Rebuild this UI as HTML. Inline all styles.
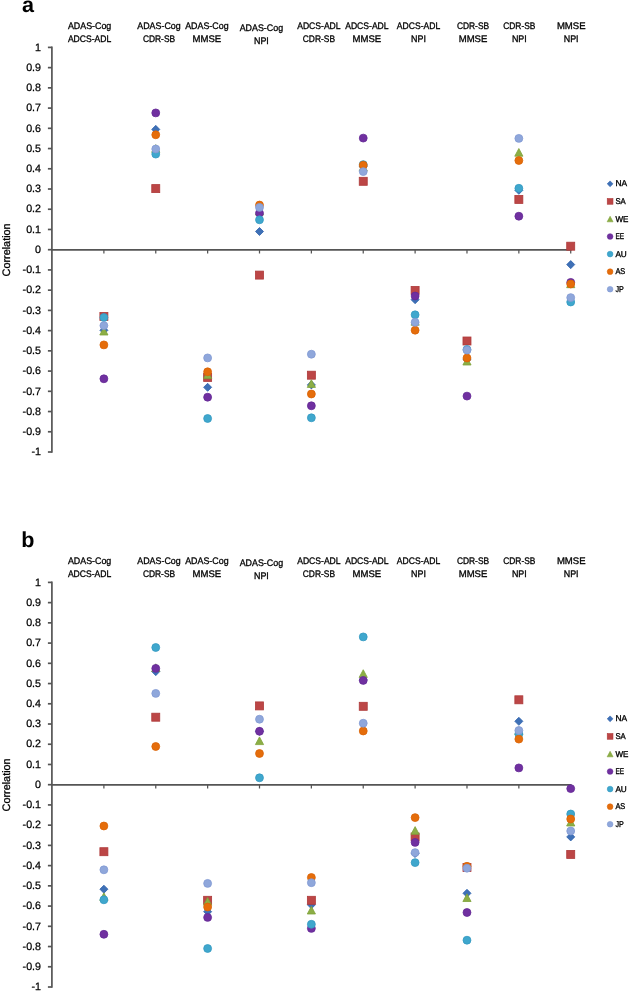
<!DOCTYPE html>
<html><head><meta charset="utf-8"><title>Correlation chart</title>
<style>
html,body{margin:0;padding:0;background:#fff;}
body{width:630px;height:992px;overflow:hidden;}
svg{display:block;position:absolute;left:0;top:0;}
#tx{filter:grayscale(1);}
text{font-family:"Liberation Sans",sans-serif;fill:#000;text-rendering:geometricPrecision;}
.yl{font-size:10.7px;text-anchor:end;stroke:#000;stroke-width:0.25px;}
.hd{font-size:9.5px;text-anchor:middle;stroke:#000;stroke-width:0.32px;}
.lg{font-size:8.5px;stroke:#000;stroke-width:0.35px;}
.cl{font-size:10.85px;text-anchor:middle;stroke:#000;stroke-width:0.3px;}
.pl{font-size:21.6px;font-weight:bold;}
</style></head>
<body>
<svg width="630" height="992" viewBox="0 0 630 992">
<rect width="630" height="992" fill="#fff"/>
<line x1="51.90" y1="46.50" x2="51.90" y2="452.80" stroke="#555555" stroke-width="1.7"/>
<line x1="47.9" y1="47.40" x2="51.90" y2="47.40" stroke="#555555" stroke-width="1.7"/>
<line x1="47.9" y1="67.63" x2="51.90" y2="67.63" stroke="#555555" stroke-width="1.7"/>
<line x1="47.9" y1="87.86" x2="51.90" y2="87.86" stroke="#555555" stroke-width="1.7"/>
<line x1="47.9" y1="108.09" x2="51.90" y2="108.09" stroke="#555555" stroke-width="1.7"/>
<line x1="47.9" y1="128.32" x2="51.90" y2="128.32" stroke="#555555" stroke-width="1.7"/>
<line x1="47.9" y1="148.55" x2="51.90" y2="148.55" stroke="#555555" stroke-width="1.7"/>
<line x1="47.9" y1="168.78" x2="51.90" y2="168.78" stroke="#555555" stroke-width="1.7"/>
<line x1="47.9" y1="189.01" x2="51.90" y2="189.01" stroke="#555555" stroke-width="1.7"/>
<line x1="47.9" y1="209.24" x2="51.90" y2="209.24" stroke="#555555" stroke-width="1.7"/>
<line x1="47.9" y1="229.47" x2="51.90" y2="229.47" stroke="#555555" stroke-width="1.7"/>
<line x1="47.9" y1="249.70" x2="51.90" y2="249.70" stroke="#555555" stroke-width="1.7"/>
<line x1="47.9" y1="269.93" x2="51.90" y2="269.93" stroke="#555555" stroke-width="1.7"/>
<line x1="47.9" y1="290.16" x2="51.90" y2="290.16" stroke="#555555" stroke-width="1.7"/>
<line x1="47.9" y1="310.39" x2="51.90" y2="310.39" stroke="#555555" stroke-width="1.7"/>
<line x1="47.9" y1="330.62" x2="51.90" y2="330.62" stroke="#555555" stroke-width="1.7"/>
<line x1="47.9" y1="350.85" x2="51.90" y2="350.85" stroke="#555555" stroke-width="1.7"/>
<line x1="47.9" y1="371.08" x2="51.90" y2="371.08" stroke="#555555" stroke-width="1.7"/>
<line x1="47.9" y1="391.31" x2="51.90" y2="391.31" stroke="#555555" stroke-width="1.7"/>
<line x1="47.9" y1="411.54" x2="51.90" y2="411.54" stroke="#555555" stroke-width="1.7"/>
<line x1="47.9" y1="431.77" x2="51.90" y2="431.77" stroke="#555555" stroke-width="1.7"/>
<line x1="47.9" y1="452.00" x2="51.90" y2="452.00" stroke="#555555" stroke-width="1.7"/>
<line x1="51.90" y1="249.90" x2="571.52" y2="249.90" stroke="#555555" stroke-width="1.7"/>
<line x1="103.89" y1="249.90" x2="103.89" y2="253.50" stroke="#555555" stroke-width="1.25"/>
<line x1="155.76" y1="249.90" x2="155.76" y2="253.50" stroke="#555555" stroke-width="1.25"/>
<line x1="207.63" y1="249.90" x2="207.63" y2="253.50" stroke="#555555" stroke-width="1.25"/>
<line x1="259.50" y1="249.90" x2="259.50" y2="253.50" stroke="#555555" stroke-width="1.25"/>
<line x1="311.37" y1="249.90" x2="311.37" y2="253.50" stroke="#555555" stroke-width="1.25"/>
<line x1="363.24" y1="249.90" x2="363.24" y2="253.50" stroke="#555555" stroke-width="1.25"/>
<line x1="415.11" y1="249.90" x2="415.11" y2="253.50" stroke="#555555" stroke-width="1.25"/>
<line x1="466.98" y1="249.90" x2="466.98" y2="253.50" stroke="#555555" stroke-width="1.25"/>
<line x1="518.85" y1="249.90" x2="518.85" y2="253.50" stroke="#555555" stroke-width="1.25"/>
<line x1="570.72" y1="249.90" x2="570.72" y2="253.50" stroke="#555555" stroke-width="1.25"/>
<path d="M103.89 326.27L107.92 330.30L103.89 334.33L99.86 330.30Z" fill="#3E70B6" stroke="#2F62AC" stroke-width="0.80" stroke-linejoin="miter"/>
<rect x="99.89" y="312.40" width="8.00" height="8.00" fill="#BC4646" stroke="#AE3A3A" stroke-width="0.80" stroke-linejoin="miter"/>
<path d="M103.89 327.32L107.99 335.00L99.79 335.00Z" fill="#8CAE45" stroke="#7FA23A" stroke-width="0.80" stroke-linejoin="miter"/>
<circle cx="103.89" cy="378.80" r="3.95" fill="#7030A0" stroke="#642996" stroke-width="0.80" stroke-linejoin="miter"/>
<circle cx="103.89" cy="317.50" r="3.95" fill="#3FA7CD" stroke="#3399C2" stroke-width="0.80" stroke-linejoin="miter"/>
<circle cx="103.89" cy="344.90" r="3.95" fill="#E56D0B" stroke="#D96306" stroke-width="0.80" stroke-linejoin="miter"/>
<circle cx="103.89" cy="325.60" r="3.95" fill="#8FA7DB" stroke="#8199D3" stroke-width="0.80" stroke-linejoin="miter"/>
<path d="M155.76 125.37L159.79 129.40L155.76 133.43L151.73 129.40Z" fill="#3E70B6" stroke="#2F62AC" stroke-width="0.80" stroke-linejoin="miter"/>
<rect x="151.76" y="184.60" width="8.00" height="8.00" fill="#BC4646" stroke="#AE3A3A" stroke-width="0.80" stroke-linejoin="miter"/>
<path d="M155.76 144.62L159.86 152.30L151.66 152.30Z" fill="#8CAE45" stroke="#7FA23A" stroke-width="0.80" stroke-linejoin="miter"/>
<circle cx="155.76" cy="112.90" r="3.95" fill="#7030A0" stroke="#642996" stroke-width="0.80" stroke-linejoin="miter"/>
<circle cx="155.76" cy="154.10" r="3.95" fill="#3FA7CD" stroke="#3399C2" stroke-width="0.80" stroke-linejoin="miter"/>
<circle cx="155.76" cy="134.80" r="3.95" fill="#E56D0B" stroke="#D96306" stroke-width="0.80" stroke-linejoin="miter"/>
<circle cx="155.76" cy="149.00" r="3.95" fill="#8FA7DB" stroke="#8199D3" stroke-width="0.80" stroke-linejoin="miter"/>
<path d="M207.63 383.27L211.66 387.30L207.63 391.33L203.60 387.30Z" fill="#3E70B6" stroke="#2F62AC" stroke-width="0.80" stroke-linejoin="miter"/>
<rect x="203.63" y="373.40" width="8.00" height="8.00" fill="#BC4646" stroke="#AE3A3A" stroke-width="0.80" stroke-linejoin="miter"/>
<path d="M207.63 370.92L211.73 378.60L203.53 378.60Z" fill="#8CAE45" stroke="#7FA23A" stroke-width="0.80" stroke-linejoin="miter"/>
<circle cx="207.63" cy="397.20" r="3.95" fill="#7030A0" stroke="#642996" stroke-width="0.80" stroke-linejoin="miter"/>
<circle cx="207.63" cy="418.50" r="3.95" fill="#3FA7CD" stroke="#3399C2" stroke-width="0.80" stroke-linejoin="miter"/>
<circle cx="207.63" cy="371.80" r="3.95" fill="#E56D0B" stroke="#D96306" stroke-width="0.80" stroke-linejoin="miter"/>
<circle cx="207.63" cy="357.90" r="3.95" fill="#8FA7DB" stroke="#8199D3" stroke-width="0.80" stroke-linejoin="miter"/>
<path d="M259.50 227.47L263.53 231.50L259.50 235.53L255.47 231.50Z" fill="#3E70B6" stroke="#2F62AC" stroke-width="0.80" stroke-linejoin="miter"/>
<rect x="255.50" y="271.10" width="8.00" height="8.00" fill="#BC4646" stroke="#AE3A3A" stroke-width="0.80" stroke-linejoin="miter"/>
<path d="M259.50 207.32L263.60 215.00L255.40 215.00Z" fill="#8CAE45" stroke="#7FA23A" stroke-width="0.80" stroke-linejoin="miter"/>
<circle cx="259.50" cy="213.10" r="3.95" fill="#7030A0" stroke="#642996" stroke-width="0.80" stroke-linejoin="miter"/>
<circle cx="259.50" cy="219.80" r="3.95" fill="#3FA7CD" stroke="#3399C2" stroke-width="0.80" stroke-linejoin="miter"/>
<circle cx="259.50" cy="205.05" r="3.95" fill="#E56D0B" stroke="#D96306" stroke-width="0.80" stroke-linejoin="miter"/>
<circle cx="259.50" cy="207.40" r="3.95" fill="#8FA7DB" stroke="#8199D3" stroke-width="0.80" stroke-linejoin="miter"/>
<path d="M311.37 380.87L315.40 384.90L311.37 388.93L307.34 384.90Z" fill="#3E70B6" stroke="#2F62AC" stroke-width="0.80" stroke-linejoin="miter"/>
<rect x="307.37" y="371.20" width="8.00" height="8.00" fill="#BC4646" stroke="#AE3A3A" stroke-width="0.80" stroke-linejoin="miter"/>
<path d="M311.37 379.72L315.47 387.40L307.27 387.40Z" fill="#8CAE45" stroke="#7FA23A" stroke-width="0.80" stroke-linejoin="miter"/>
<circle cx="311.37" cy="405.80" r="3.95" fill="#7030A0" stroke="#642996" stroke-width="0.80" stroke-linejoin="miter"/>
<circle cx="311.37" cy="417.80" r="3.95" fill="#3FA7CD" stroke="#3399C2" stroke-width="0.80" stroke-linejoin="miter"/>
<circle cx="311.37" cy="394.00" r="3.95" fill="#E56D0B" stroke="#D96306" stroke-width="0.80" stroke-linejoin="miter"/>
<circle cx="311.37" cy="354.20" r="3.95" fill="#8FA7DB" stroke="#8199D3" stroke-width="0.80" stroke-linejoin="miter"/>
<path d="M363.24 162.47L367.27 166.50L363.24 170.53L359.21 166.50Z" fill="#3E70B6" stroke="#2F62AC" stroke-width="0.80" stroke-linejoin="miter"/>
<rect x="359.24" y="177.30" width="8.00" height="8.00" fill="#BC4646" stroke="#AE3A3A" stroke-width="0.80" stroke-linejoin="miter"/>
<path d="M363.24 163.22L367.34 170.90L359.14 170.90Z" fill="#8CAE45" stroke="#7FA23A" stroke-width="0.80" stroke-linejoin="miter"/>
<circle cx="363.24" cy="138.10" r="3.95" fill="#7030A0" stroke="#642996" stroke-width="0.80" stroke-linejoin="miter"/>
<circle cx="363.24" cy="164.60" r="3.95" fill="#3FA7CD" stroke="#3399C2" stroke-width="0.80" stroke-linejoin="miter"/>
<circle cx="363.24" cy="165.20" r="3.95" fill="#E56D0B" stroke="#D96306" stroke-width="0.80" stroke-linejoin="miter"/>
<circle cx="363.24" cy="171.60" r="3.95" fill="#8FA7DB" stroke="#8199D3" stroke-width="0.80" stroke-linejoin="miter"/>
<path d="M415.11 295.67L419.14 299.70L415.11 303.73L411.08 299.70Z" fill="#3E70B6" stroke="#2F62AC" stroke-width="0.80" stroke-linejoin="miter"/>
<rect x="411.11" y="286.40" width="8.00" height="8.00" fill="#BC4646" stroke="#AE3A3A" stroke-width="0.80" stroke-linejoin="miter"/>
<path d="M415.11 317.52L419.21 325.20L411.01 325.20Z" fill="#8CAE45" stroke="#7FA23A" stroke-width="0.80" stroke-linejoin="miter"/>
<circle cx="415.11" cy="296.00" r="3.95" fill="#7030A0" stroke="#642996" stroke-width="0.80" stroke-linejoin="miter"/>
<circle cx="415.11" cy="314.80" r="3.95" fill="#3FA7CD" stroke="#3399C2" stroke-width="0.80" stroke-linejoin="miter"/>
<circle cx="415.11" cy="330.20" r="3.95" fill="#E56D0B" stroke="#D96306" stroke-width="0.80" stroke-linejoin="miter"/>
<circle cx="415.11" cy="322.30" r="3.95" fill="#8FA7DB" stroke="#8199D3" stroke-width="0.80" stroke-linejoin="miter"/>
<path d="M466.98 355.47L471.01 359.50L466.98 363.53L462.95 359.50Z" fill="#3E70B6" stroke="#2F62AC" stroke-width="0.80" stroke-linejoin="miter"/>
<rect x="462.98" y="337.00" width="8.00" height="8.00" fill="#BC4646" stroke="#AE3A3A" stroke-width="0.80" stroke-linejoin="miter"/>
<path d="M466.98 357.32L471.08 365.00L462.88 365.00Z" fill="#8CAE45" stroke="#7FA23A" stroke-width="0.80" stroke-linejoin="miter"/>
<circle cx="466.98" cy="396.10" r="3.95" fill="#7030A0" stroke="#642996" stroke-width="0.80" stroke-linejoin="miter"/>
<circle cx="466.98" cy="349.50" r="3.95" fill="#3FA7CD" stroke="#3399C2" stroke-width="0.80" stroke-linejoin="miter"/>
<circle cx="466.98" cy="358.00" r="3.95" fill="#E56D0B" stroke="#D96306" stroke-width="0.80" stroke-linejoin="miter"/>
<circle cx="466.98" cy="350.10" r="3.95" fill="#8FA7DB" stroke="#8199D3" stroke-width="0.80" stroke-linejoin="miter"/>
<path d="M518.85 186.27L522.88 190.30L518.85 194.33L514.82 190.30Z" fill="#3E70B6" stroke="#2F62AC" stroke-width="0.80" stroke-linejoin="miter"/>
<rect x="514.85" y="195.40" width="8.00" height="8.00" fill="#BC4646" stroke="#AE3A3A" stroke-width="0.80" stroke-linejoin="miter"/>
<path d="M518.85 148.52L522.95 156.20L514.75 156.20Z" fill="#8CAE45" stroke="#7FA23A" stroke-width="0.80" stroke-linejoin="miter"/>
<circle cx="518.85" cy="216.20" r="3.95" fill="#7030A0" stroke="#642996" stroke-width="0.80" stroke-linejoin="miter"/>
<circle cx="518.85" cy="188.30" r="3.95" fill="#3FA7CD" stroke="#3399C2" stroke-width="0.80" stroke-linejoin="miter"/>
<circle cx="518.85" cy="160.50" r="3.95" fill="#E56D0B" stroke="#D96306" stroke-width="0.80" stroke-linejoin="miter"/>
<circle cx="518.85" cy="138.40" r="3.95" fill="#8FA7DB" stroke="#8199D3" stroke-width="0.80" stroke-linejoin="miter"/>
<path d="M570.72 260.57L574.75 264.60L570.72 268.63L566.69 264.60Z" fill="#3E70B6" stroke="#2F62AC" stroke-width="0.80" stroke-linejoin="miter"/>
<rect x="566.72" y="242.20" width="8.00" height="8.00" fill="#BC4646" stroke="#AE3A3A" stroke-width="0.80" stroke-linejoin="miter"/>
<path d="M570.72 280.02L574.82 287.70L566.62 287.70Z" fill="#8CAE45" stroke="#7FA23A" stroke-width="0.80" stroke-linejoin="miter"/>
<circle cx="570.72" cy="282.40" r="3.95" fill="#7030A0" stroke="#642996" stroke-width="0.80" stroke-linejoin="miter"/>
<circle cx="570.72" cy="302.00" r="3.95" fill="#3FA7CD" stroke="#3399C2" stroke-width="0.80" stroke-linejoin="miter"/>
<circle cx="570.72" cy="284.00" r="3.95" fill="#E56D0B" stroke="#D96306" stroke-width="0.80" stroke-linejoin="miter"/>
<circle cx="570.72" cy="297.60" r="3.95" fill="#8FA7DB" stroke="#8199D3" stroke-width="0.80" stroke-linejoin="miter"/>
<path d="M610.10 180.90L613.00 183.80L610.10 186.70L607.20 183.80Z" fill="#3E70B6" stroke="#2F62AC" stroke-width="0.58" stroke-linejoin="miter"/>
<rect x="607.22" y="198.49" width="5.76" height="5.76" fill="#BC4646" stroke="#AE3A3A" stroke-width="0.58" stroke-linejoin="miter"/>
<path d="M610.10 216.29L613.05 221.82L607.15 221.82Z" fill="#8CAE45" stroke="#7FA23A" stroke-width="0.58" stroke-linejoin="miter"/>
<circle cx="610.10" cy="236.51" r="2.84" fill="#7030A0" stroke="#642996" stroke-width="0.58" stroke-linejoin="miter"/>
<circle cx="610.10" cy="254.08" r="2.84" fill="#3FA7CD" stroke="#3399C2" stroke-width="0.58" stroke-linejoin="miter"/>
<circle cx="610.10" cy="271.65" r="2.84" fill="#E56D0B" stroke="#D96306" stroke-width="0.58" stroke-linejoin="miter"/>
<circle cx="610.10" cy="289.22" r="2.84" fill="#8FA7DB" stroke="#8199D3" stroke-width="0.58" stroke-linejoin="miter"/>
<line x1="51.90" y1="581.50" x2="51.90" y2="987.80" stroke="#555555" stroke-width="1.7"/>
<line x1="47.9" y1="582.40" x2="51.90" y2="582.40" stroke="#555555" stroke-width="1.7"/>
<line x1="47.9" y1="602.63" x2="51.90" y2="602.63" stroke="#555555" stroke-width="1.7"/>
<line x1="47.9" y1="622.86" x2="51.90" y2="622.86" stroke="#555555" stroke-width="1.7"/>
<line x1="47.9" y1="643.09" x2="51.90" y2="643.09" stroke="#555555" stroke-width="1.7"/>
<line x1="47.9" y1="663.32" x2="51.90" y2="663.32" stroke="#555555" stroke-width="1.7"/>
<line x1="47.9" y1="683.55" x2="51.90" y2="683.55" stroke="#555555" stroke-width="1.7"/>
<line x1="47.9" y1="703.78" x2="51.90" y2="703.78" stroke="#555555" stroke-width="1.7"/>
<line x1="47.9" y1="724.01" x2="51.90" y2="724.01" stroke="#555555" stroke-width="1.7"/>
<line x1="47.9" y1="744.24" x2="51.90" y2="744.24" stroke="#555555" stroke-width="1.7"/>
<line x1="47.9" y1="764.47" x2="51.90" y2="764.47" stroke="#555555" stroke-width="1.7"/>
<line x1="47.9" y1="784.70" x2="51.90" y2="784.70" stroke="#555555" stroke-width="1.7"/>
<line x1="47.9" y1="804.93" x2="51.90" y2="804.93" stroke="#555555" stroke-width="1.7"/>
<line x1="47.9" y1="825.16" x2="51.90" y2="825.16" stroke="#555555" stroke-width="1.7"/>
<line x1="47.9" y1="845.39" x2="51.90" y2="845.39" stroke="#555555" stroke-width="1.7"/>
<line x1="47.9" y1="865.62" x2="51.90" y2="865.62" stroke="#555555" stroke-width="1.7"/>
<line x1="47.9" y1="885.85" x2="51.90" y2="885.85" stroke="#555555" stroke-width="1.7"/>
<line x1="47.9" y1="906.08" x2="51.90" y2="906.08" stroke="#555555" stroke-width="1.7"/>
<line x1="47.9" y1="926.31" x2="51.90" y2="926.31" stroke="#555555" stroke-width="1.7"/>
<line x1="47.9" y1="946.54" x2="51.90" y2="946.54" stroke="#555555" stroke-width="1.7"/>
<line x1="47.9" y1="966.77" x2="51.90" y2="966.77" stroke="#555555" stroke-width="1.7"/>
<line x1="47.9" y1="987.00" x2="51.90" y2="987.00" stroke="#555555" stroke-width="1.7"/>
<line x1="51.90" y1="784.90" x2="571.52" y2="784.90" stroke="#555555" stroke-width="1.7"/>
<line x1="103.89" y1="784.90" x2="103.89" y2="788.50" stroke="#555555" stroke-width="1.25"/>
<line x1="155.76" y1="784.90" x2="155.76" y2="788.50" stroke="#555555" stroke-width="1.25"/>
<line x1="207.63" y1="784.90" x2="207.63" y2="788.50" stroke="#555555" stroke-width="1.25"/>
<line x1="259.50" y1="784.90" x2="259.50" y2="788.50" stroke="#555555" stroke-width="1.25"/>
<line x1="311.37" y1="784.90" x2="311.37" y2="788.50" stroke="#555555" stroke-width="1.25"/>
<line x1="363.24" y1="784.90" x2="363.24" y2="788.50" stroke="#555555" stroke-width="1.25"/>
<line x1="415.11" y1="784.90" x2="415.11" y2="788.50" stroke="#555555" stroke-width="1.25"/>
<line x1="466.98" y1="784.90" x2="466.98" y2="788.50" stroke="#555555" stroke-width="1.25"/>
<line x1="518.85" y1="784.90" x2="518.85" y2="788.50" stroke="#555555" stroke-width="1.25"/>
<line x1="570.72" y1="784.90" x2="570.72" y2="788.50" stroke="#555555" stroke-width="1.25"/>
<path d="M103.89 885.17L107.92 889.20L103.89 893.23L99.86 889.20Z" fill="#3E70B6" stroke="#2F62AC" stroke-width="0.80" stroke-linejoin="miter"/>
<rect x="99.89" y="847.70" width="8.00" height="8.00" fill="#BC4646" stroke="#AE3A3A" stroke-width="0.80" stroke-linejoin="miter"/>
<path d="M103.89 892.82L107.99 900.50L99.79 900.50Z" fill="#8CAE45" stroke="#7FA23A" stroke-width="0.80" stroke-linejoin="miter"/>
<circle cx="103.89" cy="934.30" r="3.95" fill="#7030A0" stroke="#642996" stroke-width="0.80" stroke-linejoin="miter"/>
<circle cx="103.89" cy="899.80" r="3.95" fill="#3FA7CD" stroke="#3399C2" stroke-width="0.80" stroke-linejoin="miter"/>
<circle cx="103.89" cy="826.00" r="3.95" fill="#E56D0B" stroke="#D96306" stroke-width="0.80" stroke-linejoin="miter"/>
<circle cx="103.89" cy="869.80" r="3.95" fill="#8FA7DB" stroke="#8199D3" stroke-width="0.80" stroke-linejoin="miter"/>
<path d="M155.76 667.57L159.79 671.60L155.76 675.63L151.73 671.60Z" fill="#3E70B6" stroke="#2F62AC" stroke-width="0.80" stroke-linejoin="miter"/>
<rect x="151.76" y="713.20" width="8.00" height="8.00" fill="#BC4646" stroke="#AE3A3A" stroke-width="0.80" stroke-linejoin="miter"/>
<path d="M155.76 663.82L159.86 671.50L151.66 671.50Z" fill="#8CAE45" stroke="#7FA23A" stroke-width="0.80" stroke-linejoin="miter"/>
<circle cx="155.76" cy="668.40" r="3.95" fill="#7030A0" stroke="#642996" stroke-width="0.80" stroke-linejoin="miter"/>
<circle cx="155.76" cy="647.50" r="3.95" fill="#3FA7CD" stroke="#3399C2" stroke-width="0.80" stroke-linejoin="miter"/>
<circle cx="155.76" cy="746.50" r="3.95" fill="#E56D0B" stroke="#D96306" stroke-width="0.80" stroke-linejoin="miter"/>
<circle cx="155.76" cy="693.40" r="3.95" fill="#8FA7DB" stroke="#8199D3" stroke-width="0.80" stroke-linejoin="miter"/>
<path d="M207.63 907.67L211.66 911.70L207.63 915.73L203.60 911.70Z" fill="#3E70B6" stroke="#2F62AC" stroke-width="0.80" stroke-linejoin="miter"/>
<rect x="203.63" y="896.30" width="8.00" height="8.00" fill="#BC4646" stroke="#AE3A3A" stroke-width="0.80" stroke-linejoin="miter"/>
<path d="M207.63 897.52L211.73 905.20L203.53 905.20Z" fill="#8CAE45" stroke="#7FA23A" stroke-width="0.80" stroke-linejoin="miter"/>
<circle cx="207.63" cy="917.40" r="3.95" fill="#7030A0" stroke="#642996" stroke-width="0.80" stroke-linejoin="miter"/>
<circle cx="207.63" cy="948.50" r="3.95" fill="#3FA7CD" stroke="#3399C2" stroke-width="0.80" stroke-linejoin="miter"/>
<circle cx="207.63" cy="907.00" r="3.95" fill="#E56D0B" stroke="#D96306" stroke-width="0.80" stroke-linejoin="miter"/>
<circle cx="207.63" cy="883.40" r="3.95" fill="#8FA7DB" stroke="#8199D3" stroke-width="0.80" stroke-linejoin="miter"/>
<path d="M259.50 727.27L263.53 731.30L259.50 735.33L255.47 731.30Z" fill="#3E70B6" stroke="#2F62AC" stroke-width="0.80" stroke-linejoin="miter"/>
<rect x="255.50" y="701.90" width="8.00" height="8.00" fill="#BC4646" stroke="#AE3A3A" stroke-width="0.80" stroke-linejoin="miter"/>
<path d="M259.50 736.92L263.60 744.60L255.40 744.60Z" fill="#8CAE45" stroke="#7FA23A" stroke-width="0.80" stroke-linejoin="miter"/>
<circle cx="259.50" cy="731.30" r="3.95" fill="#7030A0" stroke="#642996" stroke-width="0.80" stroke-linejoin="miter"/>
<circle cx="259.50" cy="777.80" r="3.95" fill="#3FA7CD" stroke="#3399C2" stroke-width="0.80" stroke-linejoin="miter"/>
<circle cx="259.50" cy="753.50" r="3.95" fill="#E56D0B" stroke="#D96306" stroke-width="0.80" stroke-linejoin="miter"/>
<circle cx="259.50" cy="719.20" r="3.95" fill="#8FA7DB" stroke="#8199D3" stroke-width="0.80" stroke-linejoin="miter"/>
<path d="M311.37 900.77L315.40 904.80L311.37 908.83L307.34 904.80Z" fill="#3E70B6" stroke="#2F62AC" stroke-width="0.80" stroke-linejoin="miter"/>
<rect x="307.37" y="896.30" width="8.00" height="8.00" fill="#BC4646" stroke="#AE3A3A" stroke-width="0.80" stroke-linejoin="miter"/>
<path d="M311.37 906.32L315.47 914.00L307.27 914.00Z" fill="#8CAE45" stroke="#7FA23A" stroke-width="0.80" stroke-linejoin="miter"/>
<circle cx="311.37" cy="928.40" r="3.95" fill="#7030A0" stroke="#642996" stroke-width="0.80" stroke-linejoin="miter"/>
<circle cx="311.37" cy="924.30" r="3.95" fill="#3FA7CD" stroke="#3399C2" stroke-width="0.80" stroke-linejoin="miter"/>
<circle cx="311.37" cy="877.50" r="3.95" fill="#E56D0B" stroke="#D96306" stroke-width="0.80" stroke-linejoin="miter"/>
<circle cx="311.37" cy="882.70" r="3.95" fill="#8FA7DB" stroke="#8199D3" stroke-width="0.80" stroke-linejoin="miter"/>
<path d="M363.24 675.97L367.27 680.00L363.24 684.03L359.21 680.00Z" fill="#3E70B6" stroke="#2F62AC" stroke-width="0.80" stroke-linejoin="miter"/>
<rect x="359.24" y="702.30" width="8.00" height="8.00" fill="#BC4646" stroke="#AE3A3A" stroke-width="0.80" stroke-linejoin="miter"/>
<path d="M363.24 669.72L367.34 677.40L359.14 677.40Z" fill="#8CAE45" stroke="#7FA23A" stroke-width="0.80" stroke-linejoin="miter"/>
<circle cx="363.24" cy="680.40" r="3.95" fill="#7030A0" stroke="#642996" stroke-width="0.80" stroke-linejoin="miter"/>
<circle cx="363.24" cy="636.90" r="3.95" fill="#3FA7CD" stroke="#3399C2" stroke-width="0.80" stroke-linejoin="miter"/>
<circle cx="363.24" cy="731.00" r="3.95" fill="#E56D0B" stroke="#D96306" stroke-width="0.80" stroke-linejoin="miter"/>
<circle cx="363.24" cy="723.20" r="3.95" fill="#8FA7DB" stroke="#8199D3" stroke-width="0.80" stroke-linejoin="miter"/>
<path d="M415.11 849.47L419.14 853.50L415.11 857.53L411.08 853.50Z" fill="#3E70B6" stroke="#2F62AC" stroke-width="0.80" stroke-linejoin="miter"/>
<rect x="411.11" y="833.00" width="8.00" height="8.00" fill="#BC4646" stroke="#AE3A3A" stroke-width="0.80" stroke-linejoin="miter"/>
<path d="M415.11 826.62L419.21 834.30L411.01 834.30Z" fill="#8CAE45" stroke="#7FA23A" stroke-width="0.80" stroke-linejoin="miter"/>
<circle cx="415.11" cy="842.40" r="3.95" fill="#7030A0" stroke="#642996" stroke-width="0.80" stroke-linejoin="miter"/>
<circle cx="415.11" cy="862.60" r="3.95" fill="#3FA7CD" stroke="#3399C2" stroke-width="0.80" stroke-linejoin="miter"/>
<circle cx="415.11" cy="817.60" r="3.95" fill="#E56D0B" stroke="#D96306" stroke-width="0.80" stroke-linejoin="miter"/>
<circle cx="415.11" cy="852.60" r="3.95" fill="#8FA7DB" stroke="#8199D3" stroke-width="0.80" stroke-linejoin="miter"/>
<path d="M466.98 889.27L471.01 893.30L466.98 897.33L462.95 893.30Z" fill="#3E70B6" stroke="#2F62AC" stroke-width="0.80" stroke-linejoin="miter"/>
<rect x="462.98" y="863.50" width="8.00" height="8.00" fill="#BC4646" stroke="#AE3A3A" stroke-width="0.80" stroke-linejoin="miter"/>
<path d="M466.98 893.82L471.08 901.50L462.88 901.50Z" fill="#8CAE45" stroke="#7FA23A" stroke-width="0.80" stroke-linejoin="miter"/>
<circle cx="466.98" cy="912.50" r="3.95" fill="#7030A0" stroke="#642996" stroke-width="0.80" stroke-linejoin="miter"/>
<circle cx="466.98" cy="940.20" r="3.95" fill="#3FA7CD" stroke="#3399C2" stroke-width="0.80" stroke-linejoin="miter"/>
<circle cx="466.98" cy="866.30" r="3.95" fill="#E56D0B" stroke="#D96306" stroke-width="0.80" stroke-linejoin="miter"/>
<circle cx="466.98" cy="868.20" r="3.95" fill="#8FA7DB" stroke="#8199D3" stroke-width="0.80" stroke-linejoin="miter"/>
<path d="M518.85 717.27L522.88 721.30L518.85 725.33L514.82 721.30Z" fill="#3E70B6" stroke="#2F62AC" stroke-width="0.80" stroke-linejoin="miter"/>
<rect x="514.85" y="695.80" width="8.00" height="8.00" fill="#BC4646" stroke="#AE3A3A" stroke-width="0.80" stroke-linejoin="miter"/>
<path d="M518.85 726.82L522.95 734.50L514.75 734.50Z" fill="#8CAE45" stroke="#7FA23A" stroke-width="0.80" stroke-linejoin="miter"/>
<circle cx="518.85" cy="767.90" r="3.95" fill="#7030A0" stroke="#642996" stroke-width="0.80" stroke-linejoin="miter"/>
<circle cx="518.85" cy="734.00" r="3.95" fill="#3FA7CD" stroke="#3399C2" stroke-width="0.80" stroke-linejoin="miter"/>
<circle cx="518.85" cy="739.10" r="3.95" fill="#E56D0B" stroke="#D96306" stroke-width="0.80" stroke-linejoin="miter"/>
<circle cx="518.85" cy="730.50" r="3.95" fill="#8FA7DB" stroke="#8199D3" stroke-width="0.80" stroke-linejoin="miter"/>
<path d="M570.72 832.87L574.75 836.90L570.72 840.93L566.69 836.90Z" fill="#3E70B6" stroke="#2F62AC" stroke-width="0.80" stroke-linejoin="miter"/>
<rect x="566.72" y="850.40" width="8.00" height="8.00" fill="#BC4646" stroke="#AE3A3A" stroke-width="0.80" stroke-linejoin="miter"/>
<path d="M570.72 818.32L574.82 826.00L566.62 826.00Z" fill="#8CAE45" stroke="#7FA23A" stroke-width="0.80" stroke-linejoin="miter"/>
<circle cx="570.72" cy="788.60" r="3.95" fill="#7030A0" stroke="#642996" stroke-width="0.80" stroke-linejoin="miter"/>
<circle cx="570.72" cy="814.00" r="3.95" fill="#3FA7CD" stroke="#3399C2" stroke-width="0.80" stroke-linejoin="miter"/>
<circle cx="570.72" cy="819.00" r="3.95" fill="#E56D0B" stroke="#D96306" stroke-width="0.80" stroke-linejoin="miter"/>
<circle cx="570.72" cy="831.00" r="3.95" fill="#8FA7DB" stroke="#8199D3" stroke-width="0.80" stroke-linejoin="miter"/>
<path d="M610.10 715.90L613.00 718.80L610.10 721.70L607.20 718.80Z" fill="#3E70B6" stroke="#2F62AC" stroke-width="0.58" stroke-linejoin="miter"/>
<rect x="607.22" y="733.49" width="5.76" height="5.76" fill="#BC4646" stroke="#AE3A3A" stroke-width="0.58" stroke-linejoin="miter"/>
<path d="M610.10 751.29L613.05 756.82L607.15 756.82Z" fill="#8CAE45" stroke="#7FA23A" stroke-width="0.58" stroke-linejoin="miter"/>
<circle cx="610.10" cy="771.51" r="2.84" fill="#7030A0" stroke="#642996" stroke-width="0.58" stroke-linejoin="miter"/>
<circle cx="610.10" cy="789.08" r="2.84" fill="#3FA7CD" stroke="#3399C2" stroke-width="0.58" stroke-linejoin="miter"/>
<circle cx="610.10" cy="806.65" r="2.84" fill="#E56D0B" stroke="#D96306" stroke-width="0.58" stroke-linejoin="miter"/>
<circle cx="610.10" cy="824.22" r="2.84" fill="#8FA7DB" stroke="#8199D3" stroke-width="0.58" stroke-linejoin="miter"/>
</svg>
<svg id="tx" width="630" height="992" viewBox="0 0 630 992">
<text x="41.0" y="50.60" class="yl">1</text>
<text x="41.0" y="70.83" class="yl">0.9</text>
<text x="41.0" y="91.06" class="yl">0.8</text>
<text x="41.0" y="111.29" class="yl">0.7</text>
<text x="41.0" y="131.52" class="yl">0.6</text>
<text x="41.0" y="151.75" class="yl">0.5</text>
<text x="41.0" y="171.98" class="yl">0.4</text>
<text x="41.0" y="192.21" class="yl">0.3</text>
<text x="41.0" y="212.44" class="yl">0.2</text>
<text x="41.0" y="232.67" class="yl">0.1</text>
<text x="41.0" y="252.90" class="yl">0</text>
<text x="41.0" y="273.13" class="yl">-0.1</text>
<text x="41.0" y="293.36" class="yl">-0.2</text>
<text x="41.0" y="313.59" class="yl">-0.3</text>
<text x="41.0" y="333.82" class="yl">-0.4</text>
<text x="41.0" y="354.05" class="yl">-0.5</text>
<text x="41.0" y="374.28" class="yl">-0.6</text>
<text x="41.0" y="394.51" class="yl">-0.7</text>
<text x="41.0" y="414.74" class="yl">-0.8</text>
<text x="41.0" y="434.97" class="yl">-0.9</text>
<text x="41.0" y="455.20" class="yl">-1</text>
<text x="615.4" y="186.40" class="lg" textLength="11.6" lengthAdjust="spacingAndGlyphs">NA</text>
<text x="615.4" y="203.97" class="lg" textLength="10.3" lengthAdjust="spacingAndGlyphs">SA</text>
<text x="615.4" y="221.54" class="lg" textLength="13.0" lengthAdjust="spacingAndGlyphs">WE</text>
<text x="615.4" y="239.11" class="lg" textLength="8.6" lengthAdjust="spacingAndGlyphs">EE</text>
<text x="615.4" y="256.68" class="lg" textLength="11.4" lengthAdjust="spacingAndGlyphs">AU</text>
<text x="615.4" y="274.25" class="lg" textLength="9.9" lengthAdjust="spacingAndGlyphs">AS</text>
<text x="615.4" y="291.82" class="lg" textLength="8.3" lengthAdjust="spacingAndGlyphs">JP</text>
<text x="89.60" y="29.05" class="hd" textLength="43.4" lengthAdjust="spacingAndGlyphs">ADAS-Cog</text>
<text x="89.60" y="42.10" class="hd" textLength="43.4" lengthAdjust="spacingAndGlyphs">ADCS-ADL</text>
<text x="159.00" y="29.05" class="hd" textLength="43.4" lengthAdjust="spacingAndGlyphs">ADAS-Cog</text>
<text x="159.00" y="42.10" class="hd" textLength="32.2" lengthAdjust="spacingAndGlyphs">CDR-SB</text>
<text x="206.90" y="29.05" class="hd" textLength="43.4" lengthAdjust="spacingAndGlyphs">ADAS-Cog</text>
<text x="206.90" y="42.10" class="hd" textLength="28.6" lengthAdjust="spacingAndGlyphs">MMSE</text>
<text x="261.40" y="30.75" class="hd" textLength="43.4" lengthAdjust="spacingAndGlyphs">ADAS-Cog</text>
<text x="261.40" y="43.80" class="hd" textLength="14.8" lengthAdjust="spacingAndGlyphs">NPI</text>
<text x="318.90" y="29.05" class="hd" textLength="43.4" lengthAdjust="spacingAndGlyphs">ADCS-ADL</text>
<text x="318.90" y="42.10" class="hd" textLength="32.2" lengthAdjust="spacingAndGlyphs">CDR-SB</text>
<text x="366.90" y="29.05" class="hd" textLength="43.4" lengthAdjust="spacingAndGlyphs">ADCS-ADL</text>
<text x="366.90" y="42.10" class="hd" textLength="28.6" lengthAdjust="spacingAndGlyphs">MMSE</text>
<text x="418.50" y="29.05" class="hd" textLength="43.4" lengthAdjust="spacingAndGlyphs">ADCS-ADL</text>
<text x="418.50" y="42.10" class="hd" textLength="14.8" lengthAdjust="spacingAndGlyphs">NPI</text>
<text x="473.00" y="29.05" class="hd" textLength="32.2" lengthAdjust="spacingAndGlyphs">CDR-SB</text>
<text x="473.00" y="42.10" class="hd" textLength="28.6" lengthAdjust="spacingAndGlyphs">MMSE</text>
<text x="519.30" y="29.05" class="hd" textLength="32.2" lengthAdjust="spacingAndGlyphs">CDR-SB</text>
<text x="519.30" y="42.10" class="hd" textLength="14.8" lengthAdjust="spacingAndGlyphs">NPI</text>
<text x="571.20" y="29.35" class="hd" textLength="28.6" lengthAdjust="spacingAndGlyphs">MMSE</text>
<text x="571.20" y="42.40" class="hd" textLength="14.8" lengthAdjust="spacingAndGlyphs">NPI</text>
<text transform="translate(9.7 249.90) rotate(-90)" x="0" y="0" class="cl">Correlation</text>
<text x="41.0" y="585.60" class="yl">1</text>
<text x="41.0" y="605.83" class="yl">0.9</text>
<text x="41.0" y="626.06" class="yl">0.8</text>
<text x="41.0" y="646.29" class="yl">0.7</text>
<text x="41.0" y="666.52" class="yl">0.6</text>
<text x="41.0" y="686.75" class="yl">0.5</text>
<text x="41.0" y="706.98" class="yl">0.4</text>
<text x="41.0" y="727.21" class="yl">0.3</text>
<text x="41.0" y="747.44" class="yl">0.2</text>
<text x="41.0" y="767.67" class="yl">0.1</text>
<text x="41.0" y="787.90" class="yl">0</text>
<text x="41.0" y="808.13" class="yl">-0.1</text>
<text x="41.0" y="828.36" class="yl">-0.2</text>
<text x="41.0" y="848.59" class="yl">-0.3</text>
<text x="41.0" y="868.82" class="yl">-0.4</text>
<text x="41.0" y="889.05" class="yl">-0.5</text>
<text x="41.0" y="909.28" class="yl">-0.6</text>
<text x="41.0" y="929.51" class="yl">-0.7</text>
<text x="41.0" y="949.74" class="yl">-0.8</text>
<text x="41.0" y="969.97" class="yl">-0.9</text>
<text x="41.0" y="990.20" class="yl">-1</text>
<text x="615.4" y="721.40" class="lg" textLength="11.6" lengthAdjust="spacingAndGlyphs">NA</text>
<text x="615.4" y="738.97" class="lg" textLength="10.3" lengthAdjust="spacingAndGlyphs">SA</text>
<text x="615.4" y="756.54" class="lg" textLength="13.0" lengthAdjust="spacingAndGlyphs">WE</text>
<text x="615.4" y="774.11" class="lg" textLength="8.6" lengthAdjust="spacingAndGlyphs">EE</text>
<text x="615.4" y="791.68" class="lg" textLength="11.4" lengthAdjust="spacingAndGlyphs">AU</text>
<text x="615.4" y="809.25" class="lg" textLength="9.9" lengthAdjust="spacingAndGlyphs">AS</text>
<text x="615.4" y="826.82" class="lg" textLength="8.3" lengthAdjust="spacingAndGlyphs">JP</text>
<text x="89.60" y="564.05" class="hd" textLength="43.4" lengthAdjust="spacingAndGlyphs">ADAS-Cog</text>
<text x="89.60" y="577.10" class="hd" textLength="43.4" lengthAdjust="spacingAndGlyphs">ADCS-ADL</text>
<text x="159.00" y="564.05" class="hd" textLength="43.4" lengthAdjust="spacingAndGlyphs">ADAS-Cog</text>
<text x="159.00" y="577.10" class="hd" textLength="32.2" lengthAdjust="spacingAndGlyphs">CDR-SB</text>
<text x="206.90" y="564.05" class="hd" textLength="43.4" lengthAdjust="spacingAndGlyphs">ADAS-Cog</text>
<text x="206.90" y="577.10" class="hd" textLength="28.6" lengthAdjust="spacingAndGlyphs">MMSE</text>
<text x="261.40" y="565.75" class="hd" textLength="43.4" lengthAdjust="spacingAndGlyphs">ADAS-Cog</text>
<text x="261.40" y="578.80" class="hd" textLength="14.8" lengthAdjust="spacingAndGlyphs">NPI</text>
<text x="318.90" y="564.05" class="hd" textLength="43.4" lengthAdjust="spacingAndGlyphs">ADCS-ADL</text>
<text x="318.90" y="577.10" class="hd" textLength="32.2" lengthAdjust="spacingAndGlyphs">CDR-SB</text>
<text x="366.90" y="564.05" class="hd" textLength="43.4" lengthAdjust="spacingAndGlyphs">ADCS-ADL</text>
<text x="366.90" y="577.10" class="hd" textLength="28.6" lengthAdjust="spacingAndGlyphs">MMSE</text>
<text x="418.50" y="564.05" class="hd" textLength="43.4" lengthAdjust="spacingAndGlyphs">ADCS-ADL</text>
<text x="418.50" y="577.10" class="hd" textLength="14.8" lengthAdjust="spacingAndGlyphs">NPI</text>
<text x="473.00" y="564.05" class="hd" textLength="32.2" lengthAdjust="spacingAndGlyphs">CDR-SB</text>
<text x="473.00" y="577.10" class="hd" textLength="28.6" lengthAdjust="spacingAndGlyphs">MMSE</text>
<text x="519.30" y="564.05" class="hd" textLength="32.2" lengthAdjust="spacingAndGlyphs">CDR-SB</text>
<text x="519.30" y="577.10" class="hd" textLength="14.8" lengthAdjust="spacingAndGlyphs">NPI</text>
<text x="571.20" y="564.35" class="hd" textLength="28.6" lengthAdjust="spacingAndGlyphs">MMSE</text>
<text x="571.20" y="577.40" class="hd" textLength="14.8" lengthAdjust="spacingAndGlyphs">NPI</text>
<text transform="translate(9.7 784.90) rotate(-90)" x="0" y="0" class="cl">Correlation</text>
<text x="21.9" y="12.2" class="pl">a</text>
<text x="21.2" y="547.0" class="pl">b</text>
</svg>
</body></html>
